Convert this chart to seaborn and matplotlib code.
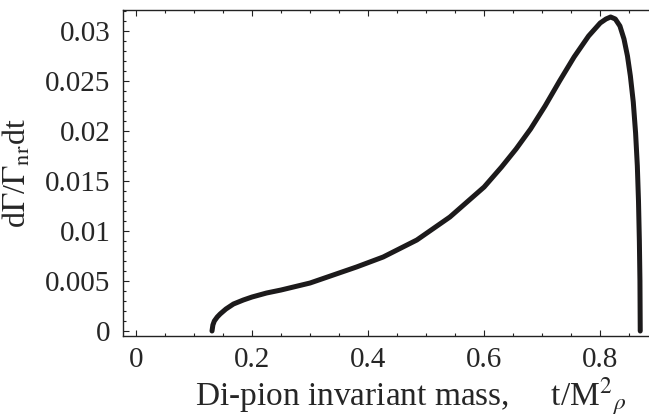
import matplotlib
matplotlib.use('Agg')
import matplotlib.pyplot as plt
import seaborn as sns
import pandas as pd
from matplotlib.ticker import MultipleLocator, FuncFormatter

# curve (t / M_rho^2, dGamma/Gamma_nr dt)
t_vals = [0.131, 0.1325, 0.135, 0.140, 0.145, 0.155, 0.168, 0.185, 0.200,
          0.225, 0.250, 0.300, 0.350, 0.380, 0.426, 0.484, 0.541, 0.600,
          0.630, 0.655, 0.680, 0.705, 0.730, 0.755, 0.780, 0.800, 0.810,
          0.818, 0.826, 0.834, 0.841, 0.847, 0.852, 0.857, 0.861, 0.864,
          0.866, 0.8675, 0.8685, 0.869]
rate_vals = [0.0, 0.0006, 0.0010, 0.0014, 0.0017, 0.0022, 0.0027, 0.0031,
             0.0034, 0.0038, 0.0041, 0.0048, 0.0058, 0.0064, 0.0074, 0.0091,
             0.0114, 0.0144, 0.0164, 0.0182, 0.0202, 0.0225, 0.0250, 0.0274,
             0.0295, 0.0308, 0.0312, 0.0314, 0.0312, 0.0305, 0.0292, 0.0275,
             0.0255, 0.0229, 0.0198, 0.0165, 0.0130, 0.0090, 0.0050, 0.0]

x_ticks = [0, 0.2, 0.4, 0.6, 0.8]
y_ticks = [0, 0.005, 0.01, 0.015, 0.02, 0.025, 0.03]

df = pd.DataFrame({'t': t_vals, 'rate': rate_vals})

sns.set_style('ticks')
plt.rcParams['font.family'] = ['Liberation Serif', 'DejaVu Serif']
plt.rcParams['mathtext.fontset'] = 'stix'

fig = plt.figure(figsize=(6.49, 4.19), dpi=100)
ax = fig.add_axes([123 / 649, 1 - 336 / 419, 530 / 649, 326 / 419])

sns.lineplot(data=df, x='t', y='rate', ax=ax, sort=False, estimator=None,
             color='#1c1a1b', linewidth=3.6, solid_capstyle='round')

ax.set_xlim(-0.0224, 0.891)
ax.set_ylim(-0.0005, 0.0321)

ax.set_xticks(x_ticks)
ax.set_yticks(y_ticks)
ax.xaxis.set_minor_locator(MultipleLocator(0.05))
ax.yaxis.set_minor_locator(MultipleLocator(0.001))
fmt = FuncFormatter(lambda v, p: f'{v:g}')
ax.xaxis.set_major_formatter(fmt)
ax.yaxis.set_major_formatter(fmt)

ax.tick_params(which='both', direction='in', top=True, right=False,
               width=0.8, color='#222222')
ax.tick_params(which='major', length=4, labelsize=21)
ax.tick_params(which='minor', length=2.3)
ax.tick_params(axis='x', pad=8)
ax.tick_params(axis='y', pad=9)

for s in ax.spines.values():
    s.set_linewidth(1.0)
    s.set_color('#222222')

ax.set_xlabel(r'Di-pion invariant mass,     t/M${}^{2}{}_{\rho}$', fontsize=24)
ax.xaxis.set_label_coords(0.543, -0.122)
ax.set_ylabel(r'd$\Gamma$/$\Gamma_{\mathrm{nr}}$dt', fontsize=23)
ax.yaxis.set_label_coords(-0.17, 0.5)

fig.savefig('out.png', dpi=100)
